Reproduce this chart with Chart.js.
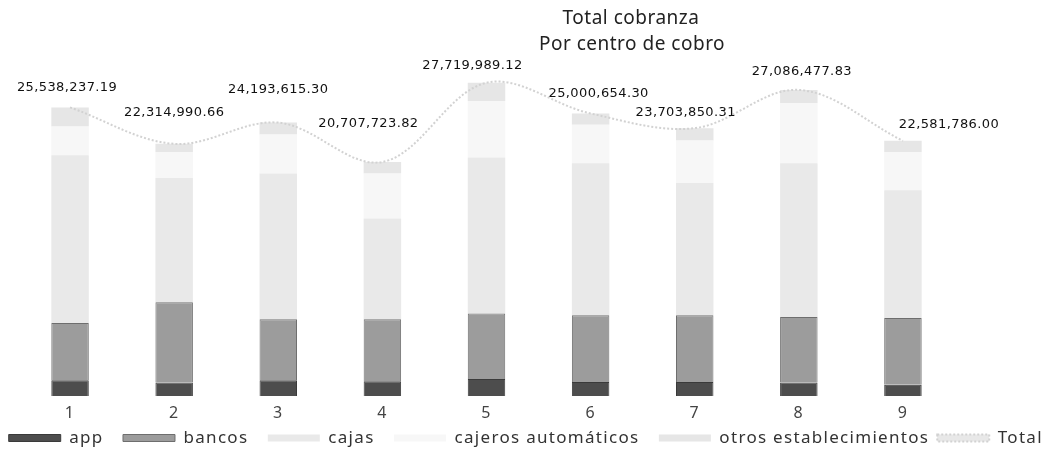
<!DOCTYPE html>
<html>
<head>
<meta charset="utf-8">
<script src="https://cdn.jsdelivr.net/npm/chart.js@4.4.1/dist/chart.umd.min.js"></script>
<style>
  html, body { margin: 0; padding: 0; background: #fff; }
  #wrap { width: 1063px; height: 463px; }
</style>
</head>
<body>
<div id="wrap"><canvas id="chart"></canvas></div>
<script>
const centros = ["1", "2", "3", "4", "5", "6", "7", "8", "9"];
const app = [1400000, 1200000, 1400000, 1300000, 1500000, 1250000, 1250000, 1200000, 1000000];
const bancos = [5050000, 7100000, 5400000, 5500000, 5800000, 5900000, 5900000, 5800000, 5900000];
const cajas = [14850000, 11000000, 12900000, 8900000, 13800000, 13450000, 11700000, 13600000, 11300000];
const cajeros = [2550000, 2300000, 3450000, 4000000, 5000000, 3400000, 3750000, 5300000, 3400000];
const otros = [1688237.19, 714990.66, 1043615.3, 1007723.82, 1619989.12, 1000654.3, 1103850.31, 1186477.83, 981786.0];
const total = [25538237.19, 22314990.66, 24193615.3, 20707723.82, 27719989.12, 25000654.3, 23703850.31, 27086477.83, 22581786.0];
const titulo = ["Total cobranza", "Por centro de cobro"];

// nudges for the value labels over the Total line (px)
const labelDx = [-3, 0, 0, -14, -14, 8, -9, 3, 46];
const labelDy = [-20, -31, -33, -38, -17, -20, -16, -18, -16];

const fmt = (v) =>
  v.toLocaleString("en-US", { minimumFractionDigits: 2, maximumFractionDigits: 2 });

// the scanned legend / axis text is quite spread out
const spacing = {
  id: "spacing",
  beforeUpdate(chart) {
    chart.ctx.letterSpacing = "1.3px";
  },
  beforeDraw(chart) {
    chart.ctx.letterSpacing = "1.3px";
  },
};

const totalLabels = {
  id: "totalLabels",
  afterDatasetsDraw(chart) {
    const { ctx } = chart;
    const meta = chart.getDatasetMeta(5);
    ctx.save();
    ctx.letterSpacing = "0.4px";
    ctx.font = "13px 'DejaVu Sans'";
    ctx.fillStyle = "#111";
    ctx.textAlign = "center";
    ctx.textBaseline = "middle";
    meta.data.forEach((pt, i) => {
      ctx.fillText(fmt(total[i]), pt.x + labelDx[i], pt.y + labelDy[i]);
    });
    ctx.restore();
  },
};

const titlePlugin = {
  id: "titleOffset",
  afterDraw(chart) {
    const { ctx } = chart;
    ctx.save();
    ctx.letterSpacing = "0.5px";
    ctx.font = "19px 'Noto Sans'";
    ctx.fillStyle = "#222";
    ctx.textAlign = "center";
    ctx.textBaseline = "middle";
    ctx.fillText(titulo[0], 631, 19);
    ctx.fillText(titulo[1], 632, 45);
    ctx.restore();
  },
};

const barSet = (label, data, bg, border, bw) => ({
  type: "bar",
  label,
  data,
  backgroundColor: bg,
  borderColor: border,
  borderWidth: bw,
  stack: "centro",
  order: 1,
});

const hiddenAxis = (position, w) => ({
  position,
  stacked: true,
  min: 0,
  max: 30000000,
  border: { display: false },
  grid: { display: false, drawTicks: false },
  ticks: { display: false },
  afterFit(scale) {
    scale.width = w;
  },
});

const config = {
  data: {
    labels: centros,
    datasets: [
      barSet("app", app, "#4d4d4d", "#3a3a3a", 1),
      barSet("bancos", bancos, "#9c9c9c", "#6e6e6e", 1),
      barSet("cajas", cajas, "#e9e9e9", "#e9e9e9", 0),
      barSet("cajeros automáticos", cajeros, "#f7f7f7", "#f7f7f7", 0),
      barSet("otros establecimientos", otros, "#e6e6e6", "#e6e6e6", 0),
      {
        type: "line",
        label: "Total",
        data: total,
        borderColor: "#d2d2d2",
        backgroundColor: "#e8e8e8",
        borderWidth: 2,
        borderDash: [2, 2],
        pointRadius: 0,
        tension: 0.35,
        stack: "total",
        order: 0,
      },
    ],
  },
  options: {
    responsive: true,
    maintainAspectRatio: false,
    animation: false,
    layout: {
      padding: { top: 57, left: 0, right: 0, bottom: 6.5 },
    },
    datasets: {
      bar: { barPercentage: 0.36, categoryPercentage: 1 },
    },
    scales: {
      x: {
        stacked: true,
        border: { display: false },
        grid: { display: false, drawTicks: false },
        ticks: {
          color: "#444",
          font: { family: "Noto Sans", size: 16 },
          padding: 8,
        },
        afterFit(scale) {
          scale.height = 25.5;
        },
      },
      y: hiddenAxis("left", 18),
      yRight: hiddenAxis("right", 108),
    },
    plugins: {
      legend: {
        position: "bottom",
        labels: {
          boxWidth: 52,
          boxHeight: 7,
          padding: 8,
          color: "#333",
          font: { family: "Noto Sans", size: 17 },
          sort: (a, b) => a.datasetIndex - b.datasetIndex,
          generateLabels(chart) {
            const items = Chart.defaults.plugins.legend.labels.generateLabels(chart);
            // a little breathing room after each entry, like the original
            return items.map((it, i) =>
              i < items.length - 1 ? { ...it, text: it.text + "  " } : it
            );
          },
        },
      },
      title: { display: false },
      tooltip: { enabled: false },
    },
  },
  plugins: [spacing, totalLabels, titlePlugin],
};

const chart = new Chart(document.getElementById("chart"), config);
</script>
</body>
</html>
